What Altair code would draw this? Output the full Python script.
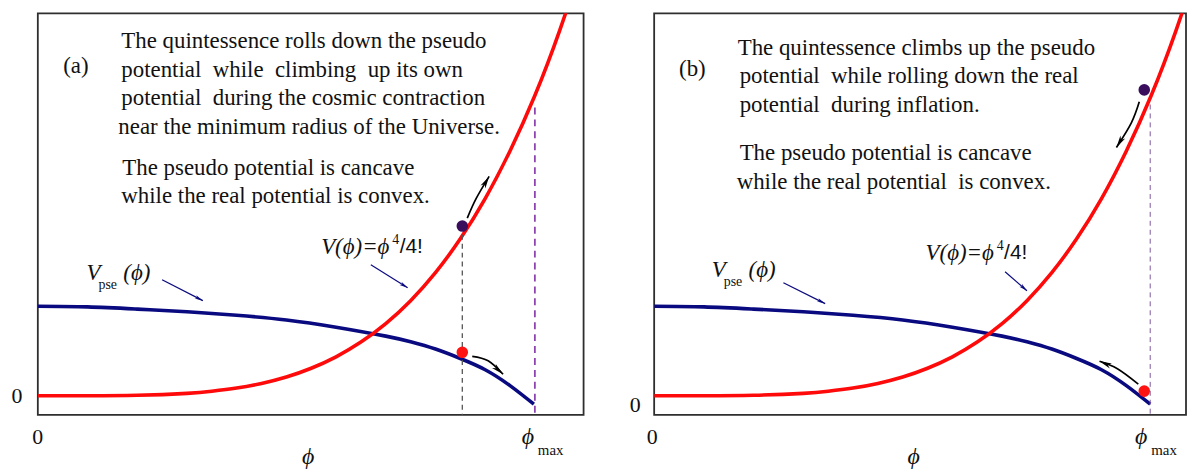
import math
import altair as alt
import pandas as pd

# ---------------- data ----------------
RED_PHI = [0, 0.1, 0.2, 0.3, 0.35, 0.4, 0.45, 0.5, 0.55, 0.6, 0.65, 0.7, 0.75,
           0.8, 0.85, 0.9, 0.95, 1.0, 1.05, 1.1]
RED_V = [0, 0.0003, 0.0048, 0.0245, 0.0454, 0.0774, 0.124, 0.189, 0.277, 0.392,
         0.540, 0.726, 0.957, 1.239, 1.579, 1.984, 2.463, 3.02, 3.676, 4.427]

BLUE_PHI = [0, 0.1, 0.2, 0.3, 0.4, 0.5, 0.6, 0.7, 0.75, 0.8, 0.85, 0.9, 0.95, 0.998]
BLUE_V = [0.900, 0.894, 0.872, 0.845, 0.810, 0.763, 0.690, 0.600, 0.543, 0.470,
          0.375, 0.262, 0.102, -0.085]

YMIN, YMAX = -0.193, 3.847
PX_X, PX_Y = 500.0, 100.0   # pixels per data unit (for arrow-head angles)

TEXT_A = [
    "The quintessence rolls down the pseudo",
    "potential\u00a0 while\u00a0 climbing\u00a0 up its own",
    "potential\u00a0 during the cosmic contraction",
    "near the minimum radius of the Universe.",
    "The pseudo potential is cancave",
    "while the real potential is convex.",
]
TEXT_A_PHI = [0.168, 0.168, 0.168, 0.162, 0.170, 0.168]
TEXT_A_V = [3.570, 3.274, 2.990, 2.707, 2.290, 2.007]

TEXT_B = [
    "The quintessence climbs up the pseudo",
    "potential\u00a0 while rolling down the real",
    "potential\u00a0 during inflation.",
    "The pseudo potential is cancave",
    "while the real potential\u00a0 is convex.",
]
TEXT_B_PHI = [0.168, 0.172, 0.172, 0.172, 0.166]
TEXT_B_V = [3.50, 3.217, 2.927, 2.437, 2.147]

PANELS = {
    "a": dict(
        xmax=1.098, width=549, tag="(a)", tag_pos=(0.051, 3.317),
        lines=(TEXT_A, TEXT_A_PHI, TEXT_A_V),
        vpse=(0.098, 1.237), vreal=(0.570, 1.497),
        zero_y=(-0.042, -0.003), zero_x=(0.0, -0.413),
        phimax=(0.986, -0.413), title=(0.544, -0.62),
        dots=[(0.854, 1.707, "#3a0e5c"), (0.854, 0.437, "#ff1414")],
        rules=[(0.854, 1.62, "#555555", 1.3, [5, 4]),
               (1.0, 2.90, "#8e44b0", 1.8, [7, 5])],
        navy_arrows=[[(0.25, 1.167), (0.332, 0.957)],
                     [(0.67, 1.317), (0.744, 1.087)]],
        black_arrows=[[(0.864, 1.787), (0.882, 1.985), (0.908, 2.207)],
                      [(0.874, 0.397), (0.906, 0.352), (0.936, 0.217)]],
    ),
    "b": dict(
        xmax=1.07, width=535, tag="(b)", tag_pos=(0.050, 3.287),
        lines=(TEXT_B, TEXT_B_PHI, TEXT_B_V),
        vpse=(0.116, 1.267), vreal=(0.546, 1.437),
        zero_y=(-0.038, -0.093), zero_x=(-0.004, -0.413),
        phimax=(0.980, -0.413), title=(0.522, -0.62),
        dots=[(0.986, 3.077, "#3a0e5c"), (0.986, 0.047, "#ff1414")],
        rules=[(0.998, 2.93, "#7d5a9e", 1.0, [5, 4])],
        navy_arrows=[[(0.26, 1.137), (0.344, 0.927)],
                     [(0.706, 1.247), (0.75, 1.057)]],
        black_arrows=[[(0.976, 2.957), (0.960, 2.745), (0.93, 2.497)],
                      [(0.974, 0.117), (0.932, 0.272), (0.896, 0.347)]],
    ),
}

SERIF = "Liberation Serif"
SANS = "Liberation Sans"
HEAD = "M0,0L0.36,1.6L0,1.15L-0.36,1.6Z"


def arrow_tables(arrows, color):
    shaft, heads = [], []
    for i, pts in enumerate(arrows):
        for j, (p, v) in enumerate(pts):
            shaft.append(dict(id=i, seq=j, phi=p, V=v, color=color))
        (p0, v0), (p1, v1) = pts[-2], pts[-1]
        dx = (p1 - p0) * PX_X
        dy = -(v1 - v0) * PX_Y
        ang = math.degrees(math.atan2(dx, -dy)) % 360
        heads.append(dict(phi=p1, V=v1, angle=ang, color=color))
    return pd.DataFrame(shaft), pd.DataFrame(heads)


def make_panel(cfg):
    xsc = alt.Scale(domain=[0, cfg["xmax"]], nice=False, zero=False)
    ysc = alt.Scale(domain=[YMIN, YMAX], nice=False, zero=False)
    X = alt.X("phi:Q", scale=xsc, axis=None)
    Y = alt.Y("V:Q", scale=ysc, axis=None)

    red = pd.DataFrame({"phi": RED_PHI, "V": RED_V})
    blue = pd.DataFrame({"phi": BLUE_PHI, "V": BLUE_V})

    layers = []
    layers.append(alt.Chart(blue).mark_line(color="#0a0a80", strokeWidth=3.6,
                                            interpolate="natural", clip=True)
                  .encode(x=X, y=Y))
    layers.append(alt.Chart(red).mark_line(color="#ff0a0a", strokeWidth=3.6,
                                           interpolate="natural", clip=True)
                  .encode(x=X, y=Y))

    for (p, top, col, sw, dash) in cfg["rules"]:
        rdf = pd.DataFrame({"phi": [p], "V": [top], "V2": [YMIN]})
        layers.append(alt.Chart(rdf).mark_rule(color=col, strokeWidth=sw, strokeDash=dash)
                      .encode(x=X, y=Y, y2=alt.Y2("V2:Q")))

    for arrows, col, sw, hs in [(cfg["navy_arrows"], "#0a0a80", 1.2, 110),
                                (cfg["black_arrows"], "#000000", 1.7, 240)]:
        sh, hd = arrow_tables(arrows, col)
        layers.append(alt.Chart(sh).mark_line(strokeWidth=sw, interpolate="cardinal", color=col)
                      .encode(x=X, y=Y, detail="id:N", order="seq:Q"))
        layers.append(alt.Chart(hd).mark_point(shape=HEAD, filled=True, size=hs,
                                               opacity=1, color=col, strokeWidth=0)
                      .encode(x=X, y=Y, angle=alt.Angle("angle:Q", scale=None)))

    ddf = pd.DataFrame([dict(phi=p, V=v, color=c) for p, v, c in cfg["dots"]])
    layers.append(alt.Chart(ddf).mark_circle(size=135, opacity=1)
                  .encode(x=X, y=Y, color=alt.Color("color:N", scale=None)))

    # ---- texts ----
    up, it, sans = [], [], []
    lines, lphi, lv = cfg["lines"]
    for t, p, v in zip(lines, lphi, lv):
        up.append(dict(text=t, phi=p, V=v, size=23, align="left"))
    tp, tv = cfg["tag_pos"]
    up.append(dict(text=cfg["tag"], phi=tp, V=tv, size=23, align="left"))
    zx, zy = cfg["zero_y"]
    up.append(dict(text="0", phi=zx, V=zy, size=22, align="center"))
    zx, zy = cfg["zero_x"]
    up.append(dict(text="0", phi=zx, V=zy, size=22, align="center"))
    mx, my = cfg["phimax"]
    it.append(dict(text="\u03d5", phi=mx, V=my, size=24, align="center"))
    up.append(dict(text="max", phi=mx + 0.02, V=my - 0.13, size=15, align="left"))
    tx, ty = cfg["title"]
    it.append(dict(text="\u03d5", phi=tx, V=ty, size=24, align="center"))
    # V_pse(phi)
    vx, vy = cfg["vpse"]
    it.append(dict(text="V", phi=vx, V=vy, size=23, align="left"))
    up.append(dict(text="pse", phi=vx + 0.024, V=vy - 0.12, size=14, align="left"))
    it.append(dict(text="(\u03d5)", phi=vx + 0.074, V=vy, size=23, align="left"))
    # V(phi) = phi^4/4!
    rx, ry = cfg["vreal"]
    it.append(dict(text="V(\u03d5)=\u03d5", phi=rx, V=ry, size=23, align="left"))
    up.append(dict(text="4", phi=rx + 0.143, V=ry + 0.07, size=14, align="left"))
    sans.append(dict(text="/4!", phi=rx + 0.158, V=ry, size=21, align="left"))

    for rows, font, style in [(up, SERIF, "normal"), (it, SERIF, "italic"),
                              (sans, SANS, "normal")]:
        tdf = pd.DataFrame(rows)
        for al in ["left", "center"]:
            sub = tdf[tdf["align"] == al]
            if len(sub) == 0:
                continue
            layers.append(alt.Chart(sub).mark_text(font=font, fontStyle=style, align=al,
                                                   baseline="middle", color="#111111")
                          .encode(x=X, y=Y, text="text:N",
                                  size=alt.Size("size:Q", scale=None)))

    return alt.layer(*layers).properties(width=cfg["width"], height=404)


chart = alt.hconcat(make_panel(PANELS["a"]), make_panel(PANELS["b"]),
                    spacing=71, bounds="flush").properties(
    padding={"left": 2, "top": 3, "right": 0, "bottom": 0},
).configure_view(stroke="#2e2e2e", strokeWidth=1.8)

chart.save("out.html", embed_options={"renderer": "svg", "actions": False})
